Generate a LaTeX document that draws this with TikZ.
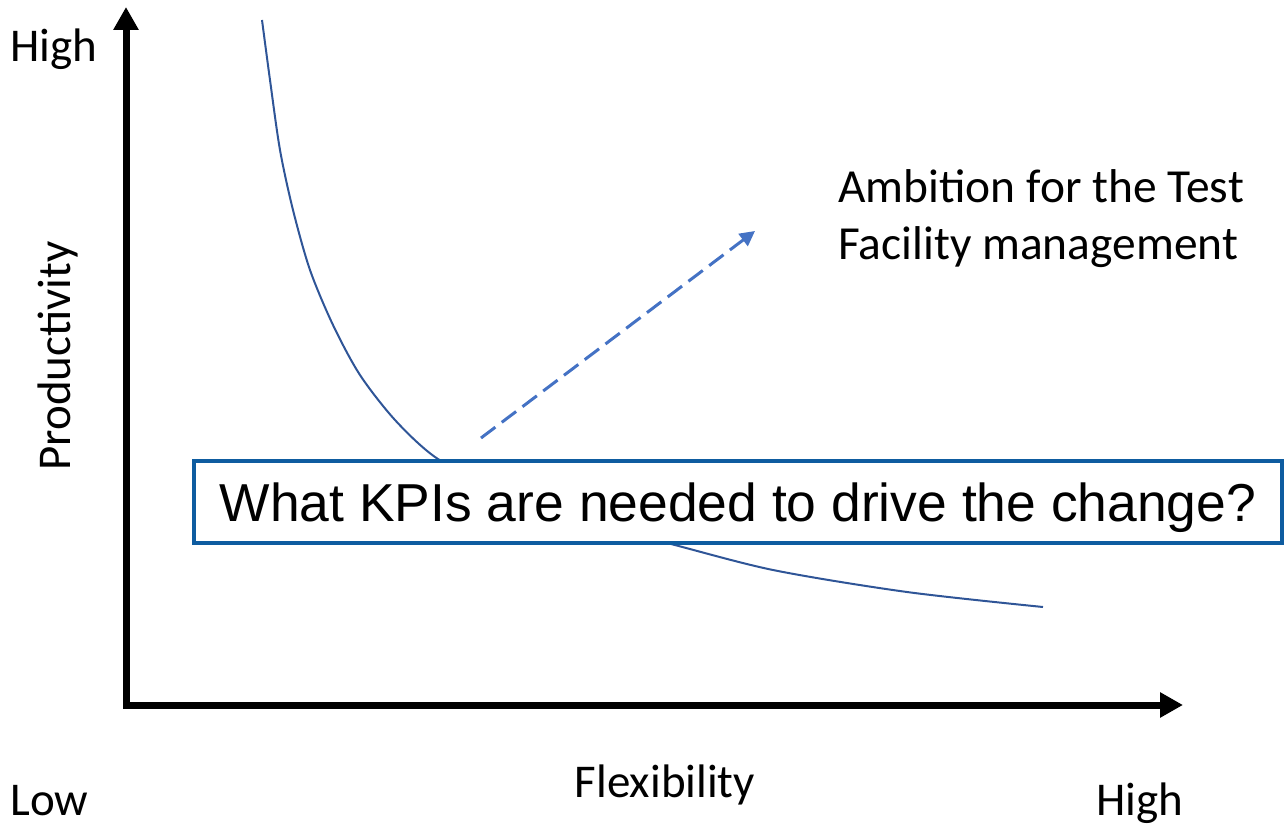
\documentclass[tikz,border=0pt]{standalone}
\usepackage{fontspec}
\setmainfont{Carlito}
\newfontfamily\arialfont{Liberation Sans}
\usetikzlibrary{arrows.meta}
\def\unitpx{0.02cm}
\definecolor{curveblue}{RGB}{47,85,151}
\definecolor{ambitionblue}{RGB}{68,114,196}
\definecolor{boxblue}{RGB}{14,92,160}

\begin{document}
\begin{tikzpicture}[x=\unitpx, y=-\unitpx]
    \tikzstyle{axis}=[line width=0.14cm, line join=miter,
        {Triangle[width=0.48cm,length=0.46cm]}-{Triangle[width=0.48cm,length=0.46cm]}]
    \tikzstyle{tradeoff}=[curveblue, line width=0.04cm]
    \tikzstyle{ambition}=[ambitionblue, line width=0.06cm, dash pattern=on 0.36cm off 0.16cm,
        -{Triangle[width=0.3cm,length=0.3cm]}]
    \tikzstyle{lbl}=[font=\fontsize{26.75}{32.4}\selectfont, inner sep=0pt]
    \tikzstyle{question}=[draw=boxblue, line width=0.08cm, fill=white,
        minimum width=21.76cm, minimum height=1.64cm, inner sep=0pt,
        text height=21.8pt, text depth=0pt,
        font=\arialfont\fontsize{30.4}{36}\selectfont]

    \useasboundingbox (0,0) rectangle (1287,828);

    % Draw the axes
    \coordinate (origin) at (126,705);
    \coordinate (ytip) at (126,7);
    \coordinate (xtip) at (1183,705);
    \draw[axis] (ytip) -- (origin) -- (xtip);

    % Axis labels
    \node[lbl, anchor=base west] (yhigh) at (10,62) {High};
    \node[lbl, anchor=base west] (low) at (10,815) {Low};
    \node[lbl, anchor=base west] (xhigh) at (1096,815) {High};
    \node[lbl, anchor=base] (flex) at (665,797) {Flexibility};
    \node[lbl, anchor=base, rotate=90] (prod) at (70,356) {Productivity};

    % Draw the trade-off curve
    \draw[tradeoff] plot[smooth] coordinates {(262,20) (270,80) (280,150) (293,210)
        (310,270) (333,325) (360,375) (395,420) (435,457) (490,487) (550,512)
        (610,530) (667,543) (773,570) (907,592) (1043,607)};

    % Ambition arrow
    \coordinate (ambstart) at (481,438);
    \coordinate (ambtip) at (755,231);
    \draw[ambition] (ambstart) -- (ambtip);
    \node[lbl, font=\fontsize{27}{32.4}\selectfont, anchor=base west, align=left] (amb) at (838,259)
        {Ambition for the Test\\Facility management};

    % The question box
    \node[question] (kpi) at (738,502) {What KPIs are needed to drive the change?};
\end{tikzpicture}
\end{document}
